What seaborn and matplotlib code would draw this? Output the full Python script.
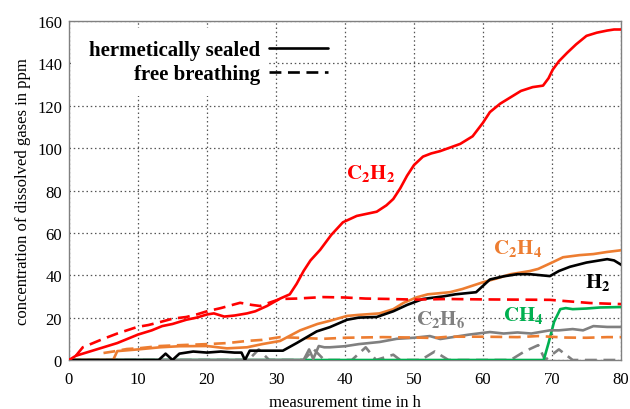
import numpy as np
import pandas as pd
import matplotlib
matplotlib.use("Agg")
import matplotlib.pyplot as plt
from matplotlib.lines import Line2D
from matplotlib.patches import Rectangle
import seaborn as sns

# --- measured gas concentrations (ppm) over time (h) ---
c2h2_sealed_t = [0, 1, 2, 3, 5, 7, 8.5, 10, 12, 13.5, 15, 17, 18.5, 20, 21, 22.5, 24, 25.8, 27,
                 28.7, 30.6, 32, 33, 34, 35, 36.4, 38, 39.7, 41.7, 44.6, 46, 47, 48, 49, 50, 51.3,
                 52.5, 53.8, 55, 56.7, 58.5, 60, 61, 62.5, 64, 65.5, 67.2, 68.7, 69.5, 70.1, 71,
                 72.2, 73.5, 75, 76.5, 78, 79, 80]
c2h2_sealed_v = [0, 2, 3, 4, 6, 8, 10, 12, 14, 16, 17, 19, 20, 21.5, 22, 20.5, 21, 22, 23,
                 25.5, 29, 31, 36, 42, 47, 52, 59, 65, 68, 70, 73, 76, 81, 87, 92, 96,
                 97.5, 98.6, 100, 102, 105.6, 112, 117, 121, 124, 127, 128.8, 129.5, 133, 137, 141,
                 145, 149, 153, 154.5, 155.5, 156, 156]

c2h2_free_t = [1, 2, 3.5, 4.9, 7, 9.9, 11.5, 13.2, 15, 17, 18.5, 20, 22, 24.8, 26.5, 27.7, 29,
               30.6, 33, 36.8, 40, 43, 46.5, 50, 55, 60, 65, 69.7, 72, 75.5, 78, 80]
c2h2_free_v = [2, 6, 8, 9.9, 12.5, 15.6, 16.5, 17.9, 19.5, 20.3, 21.5, 23, 24.5, 27, 26, 25.5, 27,
               28.8, 29, 29.7, 29.5, 29, 28.8, 28.5, 28.8, 28.6, 28.5, 28.4, 27.8, 26.9, 26.6, 26.4]

c2h4_sealed_t = [0, 6.4, 7, 10, 13.2, 16, 20, 22.9, 25.8, 28, 30.6, 33.5, 36, 37.8, 40.3, 42, 45,
                 47, 48.5, 50.4, 52, 55.2, 57, 60, 62, 64, 66.8, 68, 70, 71.6, 74, 76, 78, 80]
c2h4_sealed_v = [0, 0, 4.2, 5, 6, 6.5, 6.6, 5.5, 6, 7.5, 9, 14, 17, 18.5, 20.8, 21.3, 22,
                 24, 27, 29.6, 31, 32, 33.5, 36.7, 38.5, 40.5, 42, 43, 46, 48.5, 49.5, 50, 51, 51.8]

c2h4_free_t = [5, 6.4, 8.4, 10, 13.2, 16, 20, 23, 25.8, 28, 30.6, 33, 36.8, 40, 45.5, 50, 52.8,
               55, 60, 65, 68, 72, 75, 78, 80]
c2h4_free_v = [3.3, 4, 5.2, 5.5, 6.6, 7, 7.5, 8, 9, 9.5, 10.8, 10.5, 10, 10.5, 10.8, 10.6, 10.4,
               11, 11, 10.8, 11.3, 10.6, 10.5, 10.8, 10.8]

h2_sealed_t = [0, 13, 14, 15, 16, 18, 20, 22, 24, 25, 25.5, 26.2, 28, 31, 33, 35.9, 37.8, 40.3,
               42, 44.6, 47, 49, 51.3, 54.2, 56, 57.5, 59, 61, 63, 65, 66.8, 69.7, 71, 72.6, 75,
               78, 79, 80]
h2_sealed_v = [0, 0, 3, 0, 3, 4, 3.5, 4, 3.5, 3.5, 0, 4.4, 4.4, 4.4, 8, 13.5, 15.5, 19,
               20, 20.3, 23, 26, 28.8, 30, 31, 31.5, 32, 38, 39.5, 40.5, 40.5, 39.6, 42, 44, 46,
               47.6, 47, 45]

c2h6_sealed_t = [0, 34, 34.8, 35.4, 36.2, 37, 37.8, 40, 42, 45, 47.5, 50, 52.3, 53.8, 56, 58, 61,
                 63, 65, 67, 69.7, 71, 73, 74.5, 76, 78, 80]
c2h6_sealed_v = [0, 0, 5, 0.5, 6.6, 6, 6, 6.5, 7.5, 8.5, 10, 10.5, 11.3, 9.9, 11, 12, 13.2,
                 12.5, 13, 12.5, 14, 14, 14.6, 14, 16, 15.6, 15.6]

c2h6_free_t = [0, 26, 27.5, 29, 34, 35.5, 37, 41, 43, 44.5, 47, 48, 49.5, 51, 53, 55, 57, 64,
               66, 68, 69, 71, 73, 74, 80]
c2h6_free_v = [0, 0, 5, 0, 0, 5, 0, 0, 6, 0, 2.5, 0, 0, 0, 4, 0, 0, 0,
               4, 7, 0, 5, 0, 0, 0]

ch4_sealed_t = [0, 68.8, 69.5, 70.3, 71.2, 72, 73, 75, 77, 80]
ch4_sealed_v = [0, 0, 8, 18, 24, 24.5, 24, 24.3, 24.8, 25]

x_ticks = [0, 10, 20, 30, 40, 50, 60, 70, 80]
y_ticks = [0, 20, 40, 60, 80, 100, 120, 140, 160]

RED = "#ff0000"
ORANGE = "#ed7d31"
GRAY = "#808080"
GREEN = "#00b050"
BLACK = "#000000"

sns.set_theme(style="white")
plt.rcParams["font.family"] = ["Liberation Serif", "DejaVu Serif"]
plt.rcParams["mathtext.fontset"] = "stix"
plt.rcParams["text.color"] = "black"
plt.rcParams["axes.labelcolor"] = "black"

fig = plt.figure(figsize=(6.3, 4.1), dpi=100)
ax = fig.add_axes([0.1095, 0.1195, 0.8762, 0.8268])

LW = 1.9
DASH = (4.5, 2.5)

# series drawn back to front
series = [
    (c2h6_free_t, c2h6_free_v, GRAY, True),
    (ch4_sealed_t, ch4_sealed_v, GREEN, False),
    (c2h6_sealed_t, c2h6_sealed_v, GRAY, False),
    (c2h4_free_t, c2h4_free_v, ORANGE, True),
    (c2h4_sealed_t, c2h4_sealed_v, ORANGE, False),
    (h2_sealed_t, h2_sealed_v, BLACK, False),
    (c2h2_free_t, c2h2_free_v, RED, True),
    (c2h2_sealed_t, c2h2_sealed_v, RED, False),
]
for t, v, col, dashed in series:
    df = pd.DataFrame({"t": t, "v": v})
    line_kw = dict(dashes=DASH) if dashed else {}
    sns.lineplot(data=df, x="t", y="v", ax=ax, color=col, linewidth=LW,
                 estimator=None, sort=False, zorder=3, **line_kw)

ax.set_xlim(0, 80)
ax.set_ylim(0, 160)
ax.set_xticks(x_ticks)
ax.set_yticks(y_ticks)
ax.tick_params(axis="both", length=0, labelsize=12, colors="black")
ax.tick_params(axis="x", pad=8)
ax.tick_params(axis="y", pad=5)
ax.set_axisbelow(True)
ax.grid(True, color="#555555", linestyle=(0, (1.2, 2.2)), linewidth=0.9)
for sp in ax.spines.values():
    sp.set_color(GRAY)
    sp.set_linewidth(1.0)

ax.set_xlabel("measurement time in h", fontsize=12, labelpad=5, color="black")
ax.set_ylabel("concentration of dissolved gases in ppm", fontsize=12, labelpad=4, color="black")

# curve annotations
lab_kw = dict(fontsize=15, ha="center", va="center", zorder=5)
ax.text(43.7, 88.7, r"$\mathbf{C_2H_2}$", color=RED, **lab_kw)
ax.text(65.0, 53.0, r"$\mathbf{C_2H_4}$", color=ORANGE, **lab_kw)
ax.text(76.6, 37.0, r"$\mathbf{H_2}$", color=BLACK, **lab_kw)
ax.text(53.8, 19.8, r"$\mathbf{C_2H_6}$", color=GRAY, **lab_kw)
ax.text(65.8, 21.5, r"$\mathbf{CH_4}$", color=GREEN, **lab_kw)

# white box behind the legend text
ax.add_patch(Rectangle((0.003, 0.78), 0.356, 0.20, transform=ax.transAxes,
                       facecolor="white", edgecolor="none", zorder=1))

handles = [Line2D([], [], color=BLACK, linewidth=LW),
           Line2D([], [], color=BLACK, linewidth=LW, dashes=DASH)]
leg = ax.legend(handles, ["hermetically sealed", "free breathing"],
                loc="upper right", bbox_to_anchor=(0.484, 0.968), frameon=False,
                markerfirst=False, handlelength=2.8, handletextpad=0.45,
                labelspacing=0.2, borderaxespad=0.0,
                prop={"family": "Liberation Serif", "weight": "bold", "size": 15})
leg._legend_box.align = "right"
for txt in leg.get_texts():
    txt.set_color("black")

fig.savefig("out.png", dpi=100)
